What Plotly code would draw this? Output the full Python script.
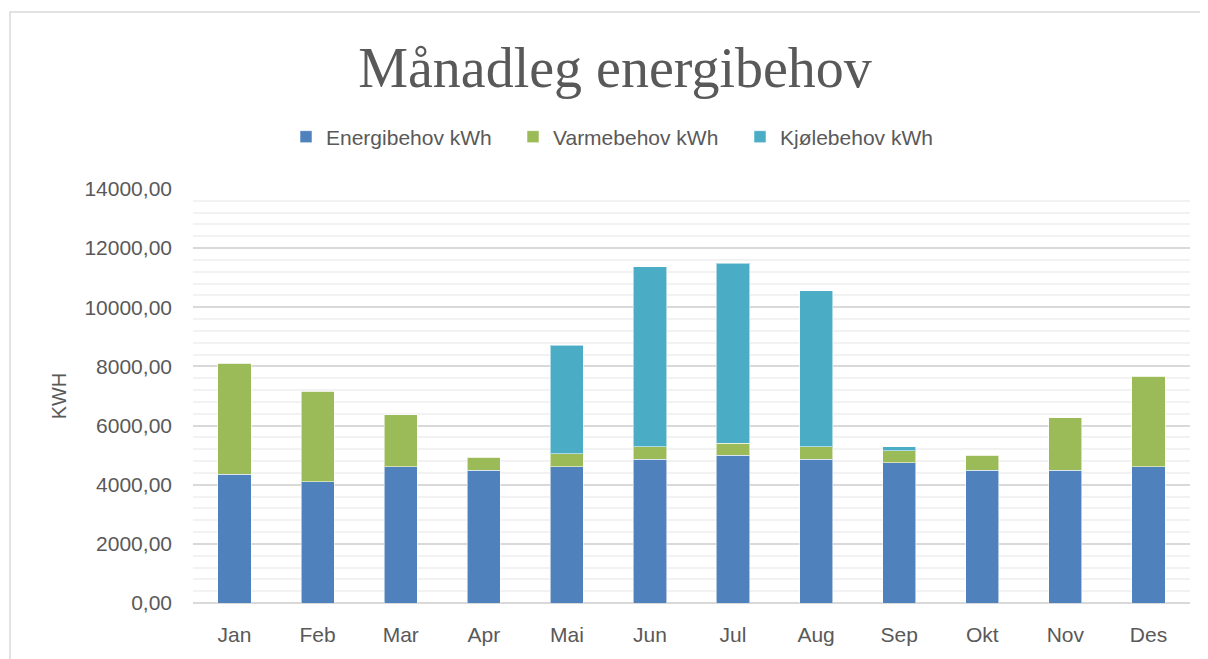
import plotly.graph_objects as go

months = ["Jan", "Feb", "Mar", "Apr", "Mai", "Jun", "Jul", "Aug", "Sep", "Okt", "Nov", "Des"]
energibehov = [4360, 4100, 4610, 4490, 4610, 4860, 4990, 4860, 4745, 4490, 4490, 4610]
varmebehov = [3745, 3060, 1750, 440, 440, 417, 420, 417, 406, 515, 1770, 3065]
kjolebehov = [0, 0, 0, 0, 3665, 6100, 6075, 5285, 125, 0, 0, 0]

series = [
    ("Energibehov kWh", energibehov, "#4F81BD"),
    ("Varmebehov kWh", varmebehov, "#9BBB59"),
    ("Kjølebehov kWh", kjolebehov, "#4BACC6"),
]

fig = go.Figure()
for name, vals, col in series:
    fig.add_trace(go.Bar(
        x=months, y=vals, name=name,
        marker=dict(color=col, line=dict(color="rgba(255,255,255,0.55)", width=1)),
    ))

OFF = 8  # page body margin
W, H = 1208 - OFF, 659 - OFF
L, T = 193 - OFF, 189 - OFF
R = 1208 - 1190
B = 659 - 603
pw, ph = W - L - R, H - T - B


def px_x(x):
    return (x - OFF - L) / pw


def px_y(y):
    return (603 - y) / ph


fig.update_layout(
    barmode="stack",
    bargap=0.6,
    width=W, height=H,
    margin=dict(l=L, r=R, t=T, b=B),
    paper_bgcolor="white",
    plot_bgcolor="white",
    separators=", ",
    font=dict(family="Liberation Sans, Arial, sans-serif", color="#595959", size=21),
    title=dict(
        text="Månadleg energibehov",
        font=dict(family="Liberation Serif, DejaVu Serif, serif", size=56, color="#595959"),
        x=(615 - OFF) / W, xanchor="center", xref="container",
        y=1 - (67 - OFF) / H, yanchor="middle", yref="container",
    ),
    legend=dict(
        orientation="h",
        x=px_x(286), xanchor="left",
        y=px_y(137), yanchor="middle",
        font=dict(size=21, color="#595959"),
        traceorder="normal",
        itemwidth=30,
        entrywidth=182,
        entrywidthmode="pixels",
    ),
    showlegend=True,
    xaxis=dict(
        showgrid=False,
        showline=False,
        ticks="",
        tickfont=dict(size=21, color="#595959"),
        ticklabelstandoff=17,
    ),
    yaxis=dict(
        range=[0, 14000],
        dtick=2000,
        tickformat=".2f",
        showgrid=True,
        gridcolor="#d9d9d9",
        gridwidth=1.5,
        zeroline=True,
        zerolinecolor="#d9d9d9",
        zerolinewidth=2,
        minor=dict(dtick=400, showgrid=True, gridcolor="#f2f2f2", gridwidth=1.5),
        ticks="",
        ticklabelstandoff=20,
        tickfont=dict(size=21, color="#595959"),
        title=dict(text="KWH", font=dict(size=20, color="#595959"), standoff=12),
    ),
    shapes=[dict(
        type="rect", xref="paper", yref="paper",
        x0=px_x(10), x1=px_x(1215),
        y0=px_y(700), y1=px_y(12),
        line=dict(color="#d9d9d9", width=1.5),
        fillcolor="rgba(0,0,0,0)",
        layer="below",
    )],
)

fig.write_html("out.html")
